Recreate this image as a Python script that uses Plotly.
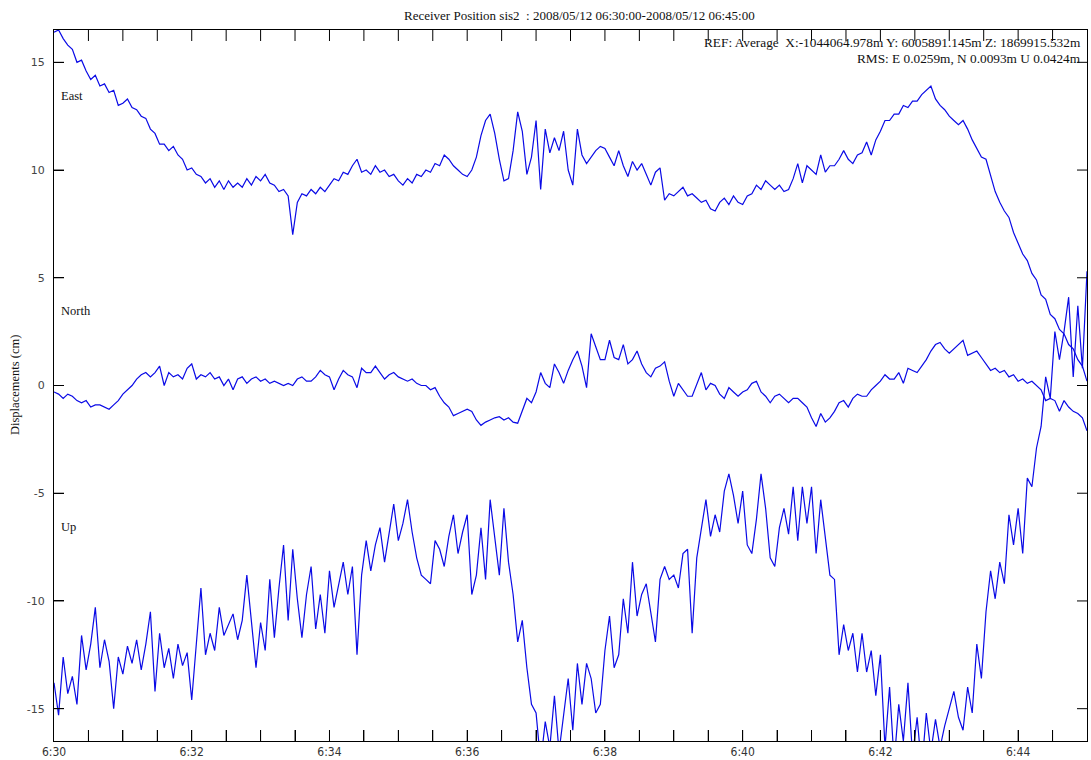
import plotly.graph_objects as go

# Displacement series, one sample every 4 s from 06:30:00 (values in cm)
east = [
    16.4, 16.5, 16.1, 15.8, 15.6, 15.0, 15.1, 14.6, 14.2, 14.4, 13.9, 14.0, 13.6, 13.7, 13.0,
    13.1, 13.3, 12.9, 12.8, 12.5, 12.4, 11.9, 11.7, 11.2, 11.2, 10.9, 11.1, 10.7, 10.5, 10.0,
    10.1, 9.8, 9.7, 9.4, 9.6, 9.2, 9.5, 9.1, 9.5, 9.2, 9.4, 9.2, 9.6, 9.3, 9.7,
    9.5, 9.8, 9.4, 9.3, 9.0, 9.1, 8.8, 7.0, 8.5, 8.9, 8.8, 9.1, 8.9, 9.2, 9.0,
    9.3, 9.6, 9.5, 9.9, 9.8, 10.2, 10.5, 9.9, 10.0, 9.8, 10.2, 9.9, 10.0, 9.7, 9.8,
    9.5, 9.3, 9.6, 9.4, 9.8, 9.7, 10.0, 9.9, 10.3, 10.2, 10.7, 10.5, 10.2, 10.0, 9.8,
    9.7, 10.0, 10.6, 11.6, 12.3, 12.6, 11.7, 10.5, 9.5, 9.6, 10.9, 12.7, 11.8, 9.8, 10.6,
    12.3, 9.1, 11.9, 10.8, 11.5, 10.9, 11.8, 10.0, 9.3, 11.9, 10.7, 10.3, 10.6, 10.9, 11.1,
    11.0, 10.6, 10.2, 10.9, 10.2, 9.7, 10.4, 10.0, 10.3, 9.8, 9.3, 9.9, 10.1, 8.6, 8.9,
    8.8, 9.0, 9.2, 8.8, 8.9, 8.7, 8.5, 8.6, 8.2, 8.1, 8.5, 8.7, 8.4, 8.8, 8.5,
    8.4, 8.8, 8.9, 9.3, 9.1, 9.5, 9.3, 9.1, 9.3, 9.0, 9.1, 9.6, 10.3, 9.4, 10.2,
    10.0, 9.8, 10.7, 9.9, 10.2, 10.2, 10.5, 10.9, 10.5, 10.3, 10.7, 10.8, 11.3, 10.7, 11.4,
    11.8, 12.3, 12.3, 12.6, 12.6, 13.0, 12.9, 13.2, 13.2, 13.5, 13.7, 13.9, 13.3, 13.0, 12.8,
    12.5, 12.3, 12.1, 12.3, 11.9, 11.4, 11.0, 10.6, 10.5, 9.7, 9.0, 8.5, 8.1, 7.8, 7.1,
    6.6, 6.1, 5.8, 5.2, 4.9, 4.2, 4.0, 3.3, 3.1, 2.6, 2.4, 1.9, 1.7, 1.2, 0.9, 0.2,
]

north = [
    -0.3, -0.4, -0.6, -0.4, -0.5, -0.7, -0.8, -0.7, -1.0, -0.9, -0.9, -1.0, -1.1, -0.9, -0.7,
    -0.4, -0.2, 0.0, 0.3, 0.5, 0.6, 0.4, 0.6, 0.9, 0.0, 0.6, 0.4, 0.5, 0.3, 0.8,
    1.0, 0.3, 0.5, 0.4, 0.6, 0.3, 0.4, 0.0, 0.3, -0.2, 0.3, 0.4, 0.1, 0.3, 0.4,
    0.2, 0.3, 0.1, 0.2, 0.1, 0.0, 0.1, 0.0, 0.3, 0.4, 0.2, 0.2, 0.4, 0.7, 0.5,
    0.4, -0.2, 0.3, 0.7, 0.5, 0.4, -0.1, 0.8, 0.6, 0.6, 0.9, 0.6, 0.3, 0.5, 0.6,
    0.4, 0.3, 0.2, 0.3, 0.1, 0.0, 0.0, -0.2, -0.1, -0.5, -0.8, -1.0, -1.4, -1.3, -1.2,
    -1.1, -1.2, -1.6, -1.85, -1.7, -1.6, -1.5, -1.45, -1.6, -1.5, -1.7, -1.75, -1.2, -0.6, -0.8,
    -0.3, 0.6, 0.1, -0.1, 1.0, 0.6, 0.1, 0.7, 1.2, 1.6, 0.9, -0.1, 2.4, 1.8, 1.2,
    1.2, 2.1, 1.3, 1.2, 1.9, 1.0, 1.2, 1.6, 1.0, 0.6, 0.4, 0.8, 0.9, 1.1, 0.2,
    -0.5, 0.1, -0.2, -0.5, -0.5, 0.1, 0.6, -0.2, 0.1, 0.0, -0.4, -0.6, -0.1, -0.3, -0.5,
    -0.3, -0.2, 0.1, 0.2, -0.3, -0.5, -0.8, -0.5, -0.4, -0.6, -0.8, -0.6, -0.6, -0.8, -1.0,
    -1.5, -1.9, -1.3, -1.7, -1.5, -1.2, -0.8, -0.7, -1.0, -0.6, -0.4, -0.5, -0.5, -0.2, 0.0,
    0.2, 0.5, 0.3, 0.3, 0.6, 0.1, 0.8, 0.7, 0.6, 0.9, 1.2, 1.6, 1.9, 2.0, 1.7,
    1.5, 1.7, 1.9, 2.1, 1.4, 1.5, 1.6, 1.3, 1.0, 0.7, 0.8, 0.6, 0.7, 0.4, 0.5,
    0.2, 0.3, 0.1, 0.2, 0.0, -0.2, -0.7, -0.6, -0.7, -1.2, -0.7, -1.0, -1.2, -1.3, -1.5, -2.1,
]

up = [
    -13.8, -15.3, -12.6, -14.3, -13.5, -14.8, -11.6, -13.2, -12.0, -10.3, -13.1, -11.8, -12.8, -15.0, -12.6,
    -13.4, -12.1, -12.9, -11.8, -13.2, -12.0, -10.5, -14.2, -11.5, -13.1, -12.2, -13.6, -12.0, -13.0, -12.4,
    -14.6, -11.9, -9.4, -12.5, -11.5, -12.3, -10.3, -11.6, -11.1, -10.6, -11.8, -10.9, -8.8, -11.0, -13.1,
    -11.0, -12.3, -9.0, -11.7, -9.4, -7.4, -10.9, -7.6, -9.9, -11.7, -9.7, -8.4, -11.3, -9.7, -11.5,
    -8.6, -10.3, -9.2, -8.2, -9.7, -8.4, -12.5, -8.8, -7.2, -8.6, -7.4, -6.6, -8.2, -6.8, -5.5,
    -7.2, -6.4, -5.3, -6.8, -8.0, -8.8, -9.0, -9.2, -7.2, -7.6, -8.4, -7.0, -6.0, -7.8, -6.8,
    -6.0, -9.7, -8.8, -6.6, -9.0, -5.3, -7.0, -8.8, -5.7, -8.2, -9.7, -11.9, -10.9, -13.1, -14.8,
    -15.2, -17.5, -15.6, -16.8, -14.4, -17.0, -15.2, -13.6, -16.0, -12.9, -14.8, -12.9, -13.6, -15.2, -14.8,
    -12.3, -10.7, -13.1, -12.5, -9.9, -11.5, -8.2, -10.7, -9.7, -9.2, -10.5, -11.9, -9.0, -8.4, -9.0,
    -8.8, -9.4, -7.8, -7.6, -11.5, -8.0, -6.6, -5.3, -7.0, -6.0, -6.8, -4.9, -4.1, -5.1, -6.4,
    -4.9, -7.4, -7.8, -6.2, -4.1, -5.7, -8.0, -8.4, -6.6, -5.7, -6.9, -4.7, -7.2, -4.7, -6.4,
    -4.7, -7.8, -5.3, -7.0, -8.8, -9.0, -12.5, -11.1, -12.3, -11.5, -13.3, -11.5, -13.3, -12.3, -14.4,
    -12.5, -16.8, -14.0, -17.5, -14.8, -16.5, -13.8, -17.2, -15.4, -17.8, -15.2, -17.0, -15.5, -16.8, -15.8,
    -15.0, -14.2, -15.4, -16.0, -14.0, -15.2, -12.0, -13.6, -10.5, -8.6, -9.9, -8.2, -9.2, -6.0, -7.4,
    -5.7, -7.8, -4.3, -4.7, -2.9, -1.9, 0.4, -0.6, 2.5, 1.2, 2.5, 4.1, 0.4, 3.7, 0.8, 5.3,
]

sample_step_s = 4
x_tick_seconds = list(range(0, 901, 30))
x_tick_labels = ["6:30", "", "", "", "6:32", "", "", "", "6:34", "", "", "", "6:36", "", "", "",
                 "6:38", "", "", "", "6:40", "", "", "", "6:42", "", "", "", "6:44", "", ""]
y_tick_values = [15, 10, 5, 0, -5, -10, -15]
y_tick_labels = ["15", "10", "5", "0", "-5", "-10", "-15"]
x_range = [0, 900]
y_range = [-16.5, 16.5]

title_text = "Receiver Position sis2 \u00a0: 2008/05/12 06:30:00-2008/05/12 06:45:00"
ref_text = "REF: Average \u00a0X:-1044064.978m Y: 6005891.145m Z: 1869915.532m"
rms_text = "RMS: E 0.0259m, N 0.0093m U 0.0424m"

LINE = "#0a0ae6"
SERIF = "Liberation Serif, Times New Roman, serif"
X_TICK_LEN = 11
Y_TICK_LEN = 10

plot_l, plot_r, plot_t, plot_b = 54, 1087, 30, 741
plot_w, plot_h = plot_r - plot_l, plot_b - plot_t

fig = go.Figure()
for series in (east, north, up):
    fig.add_trace(go.Scatter(
        x=[i * sample_step_s for i in range(len(series))],
        y=series,
        mode="lines",
        line=dict(color=LINE, width=1.2),
        showlegend=False,
    ))

fig.update_layout(
    width=1091, height=760,
    margin=dict(l=54, r=4, t=30, b=19),
    plot_bgcolor="white",
    showlegend=False,
)

fig.update_xaxes(
    range=x_range, tickmode="array", tickvals=x_tick_seconds, ticktext=x_tick_labels,
    ticks="inside", ticklen=X_TICK_LEN, tickwidth=1, tickcolor="#000000",
    showline=True, linecolor="#000000", linewidth=1, mirror=True,
    showgrid=False, zeroline=False, automargin=False,
    tickfont=dict(family="Liberation Sans Narrow, DejaVu Sans Condensed, Arial Narrow, sans-serif",
                  size=12, color="#333333"),
)
fig.update_yaxes(
    range=y_range, tickmode="array", tickvals=y_tick_values, ticktext=y_tick_labels,
    ticks="inside", ticklen=Y_TICK_LEN, tickwidth=1, tickcolor="#000000",
    showline=True, linecolor="#000000", linewidth=1, mirror=True,
    showgrid=False, zeroline=False, automargin=False,
    ticklabelstandoff=6,
    tickfont=dict(family="DejaVu Sans, Verdana, sans-serif", size=11, color="#444444"),
)

# Inward tick marks on all four sides, placed at the axis tick values
tick_line = dict(color="#000000", width=1)
xt = X_TICK_LEN / plot_h
yt = Y_TICK_LEN / plot_w
shapes = []
for tv in x_tick_seconds[1:-1]:
    shapes.append(dict(type="line", xref="x", yref="paper", x0=tv, x1=tv, y0=0, y1=xt,
                       line=tick_line, layer="above"))
    shapes.append(dict(type="line", xref="x", yref="paper", x0=tv, x1=tv, y0=1, y1=1 - xt,
                       line=tick_line, layer="above"))
for tv in y_tick_values:
    shapes.append(dict(type="line", xref="paper", yref="y", x0=0, x1=yt, y0=tv, y1=tv,
                       line=tick_line, layer="above"))
    shapes.append(dict(type="line", xref="paper", yref="y", x0=1, x1=1 - yt, y0=tv, y1=tv,
                       line=tick_line, layer="above"))
fig.update_layout(shapes=shapes)


def px_to_paper(px, py):
    return (px - plot_l) / plot_w, (plot_b - py) / plot_h


text_items = [
    # text, pixel x, pixel y, xanchor, font size
    (title_text, 579, 15, "center", 13),
    (ref_text, 1083, 42, "right", 13.3),
    (rms_text, 1083, 58, "right", 13.3),
    ("East", 59, 96, "left", 12.5),
    ("North", 59, 311, "left", 12.5),
    ("Up", 59, 527, "left", 12.5),
]
annotations = []
for text, px, py, anchor, size in text_items:
    xp, yp = px_to_paper(px, py)
    annotations.append(dict(
        text=text, x=xp, y=yp, xref="paper", yref="paper",
        xanchor=anchor, yanchor="middle", showarrow=False,
        font=dict(family=SERIF, size=size, color="#111111"),
    ))
xp, yp = px_to_paper(15, 385)
annotations.append(dict(
    text="Displacements (cm)", x=xp, y=yp, xref="paper", yref="paper",
    xanchor="center", yanchor="middle", textangle=-90, showarrow=False,
    font=dict(family=SERIF, size=12.5, color="#111111"),
))
fig.update_layout(annotations=annotations)

fig.write_html("out.html")
